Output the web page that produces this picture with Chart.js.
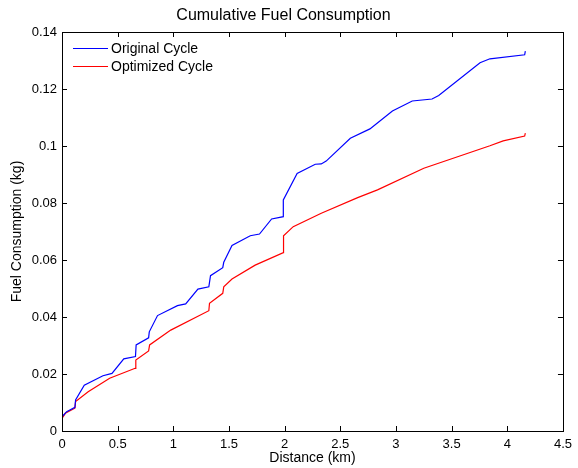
<!DOCTYPE html>
<html>
<head>
<meta charset="utf-8">
<script src="https://cdn.jsdelivr.net/npm/chart.js@4/dist/chart.umd.min.js"></script>
<style>
    html, body { margin: 0; padding: 0; background: #fff; }
    #wrap { width: 578px; height: 468px; }
</style>
</head>
<body>
<div id="wrap"><canvas id="fuelChart" width="578" height="468"></canvas></div>
<script>
// values
const originalDistance = [0, 0, 0.042, 0.116, 0.122, 0.2, 0.368, 0.449, 0.555, 0.66, 0.666, 0.778, 0.784, 0.858,
    1.037, 1.111, 1.221, 1.319, 1.334, 1.444, 1.453, 1.527, 1.691, 1.774, 1.883, 1.988, 1.988, 2.112, 2.275,
    2.329, 2.373, 2.59, 2.766, 2.968, 3.146, 3.324, 3.384, 3.755, 3.844, 4.156, 4.162];
const originalFuel = [0, 0.005, 0.0068, 0.0083, 0.0109, 0.0161, 0.0194, 0.0202, 0.0253, 0.0261, 0.0302, 0.0327, 0.0348, 0.0405,
    0.0440, 0.0446, 0.0498, 0.0506, 0.0545, 0.0573, 0.0592, 0.0651, 0.0685, 0.0691, 0.0744, 0.0752, 0.0811, 0.0904, 0.0936,
    0.0937, 0.0947, 0.1027, 0.1060, 0.1123, 0.1158, 0.1165, 0.1177, 0.1292, 0.1306, 0.1320, 0.1333];

const optimizedDistance = [0, 0, 0.03, 0.116, 0.122, 0.235, 0.428, 0.657, 0.663, 0.778, 0.787, 0.977,
    1.319, 1.325, 1.444, 1.453, 1.527, 1.735, 1.988, 1.99, 2.077, 2.329, 2.656, 2.834, 3.25, 3.844, 3.963, 4.156, 4.162];
const optimizedFuel = [0, 0.0044, 0.0062, 0.008, 0.0103, 0.0138, 0.0185, 0.0220, 0.0249, 0.0281, 0.0302, 0.0354,
    0.0422, 0.0448, 0.0483, 0.0506, 0.0533, 0.0582, 0.0626, 0.0685, 0.0717, 0.0764, 0.0819, 0.0846, 0.0922, 0.1001, 0.1018, 0.1035, 0.1045];

const xTicks = [0, 0.5, 1, 1.5, 2, 2.5, 3, 3.5, 4, 4.5];
const yTicks = [0, 0.02, 0.04, 0.06, 0.08, 0.1, 0.12, 0.14];

const seriesNames = ["Original Cycle", "Optimized Cycle"];
const seriesColors = ["#0000ff", "#ff0000"];

const FONT = "'Liberation Sans', Arial, Helvetica, sans-serif";

function toPoints(xs, ys) {
    return xs.map((x, i) => ({ x: x, y: ys[i] }));
}

// box round the axes + inward ticks on all four sides, matlab style
const boxTicks = {
    id: 'boxTicks',
    afterDraw(chart) {
        const ctx = chart.ctx;
        const a = chart.chartArea;
        const xs = chart.scales.x, ys = chart.scales.y;
        ctx.save();
        ctx.strokeStyle = '#000';
        ctx.lineWidth = 1;
        ctx.beginPath();
        xTicks.forEach(v => {
            const px = Math.round(xs.getPixelForValue(v)) + 0.5;
            ctx.moveTo(px, a.bottom); ctx.lineTo(px, a.bottom - 5);
            ctx.moveTo(px, a.top); ctx.lineTo(px, a.top + 5);
        });
        yTicks.forEach(v => {
            const py = Math.round(ys.getPixelForValue(v)) + 0.5;
            ctx.moveTo(a.left, py); ctx.lineTo(a.left + 5, py);
            ctx.moveTo(a.right, py); ctx.lineTo(a.right - 5, py);
        });
        ctx.stroke();
        ctx.strokeRect(Math.round(a.left) + 0.5, Math.round(a.top) + 0.5,
            Math.round(a.right - a.left), Math.round(a.bottom - a.top));
        ctx.restore();
    }
};

// legend inside the axes, top left, no frame
const innerLegend = {
    id: 'innerLegend',
    afterDraw(chart) {
        const ctx = chart.ctx;
        const a = chart.chartArea;
        ctx.save();
        ctx.font = '14px ' + FONT;
        ctx.textBaseline = 'middle';
        chart.data.datasets.forEach((ds, i) => {
            const y = a.top + 16 + i * 17.7;
            ctx.strokeStyle = ds.borderColor;
            ctx.lineWidth = 1;
            ctx.beginPath();
            ctx.moveTo(a.left + 11, Math.round(y) + 0.5);
            ctx.lineTo(a.left + 46, Math.round(y) + 0.5);
            ctx.stroke();
            ctx.fillStyle = '#000';
            ctx.fillText(ds.label, a.left + 49, y + 1);
        });
        ctx.restore();
    }
};

new Chart(document.getElementById('fuelChart'), {
    type: 'line',
    data: {
        datasets: [
            {
                label: seriesNames[0],
                borderColor: seriesColors[0],
                backgroundColor: seriesColors[0],
                borderWidth: 1.2,
                pointRadius: 0,
                tension: 0,
                data: toPoints(originalDistance, originalFuel)
            },
            {
                label: seriesNames[1],
                borderColor: seriesColors[1],
                backgroundColor: seriesColors[1],
                borderWidth: 1.2,
                pointRadius: 0,
                tension: 0,
                data: toPoints(optimizedDistance, optimizedFuel)
            }
        ]
    },
    options: {
        responsive: false,
        animation: false,
        layout: { padding: { left: 0, right: 11, top: 0, bottom: 0 } },
        plugins: {
            legend: { display: false },
            tooltip: { enabled: false },
            title: {
                display: true,
                text: 'Cumulative Fuel Consumption',
                color: '#000',
                font: { family: FONT, size: 16, weight: 'normal' },
                padding: { top: 5.5, bottom: 7.3 }
            }
        },
        scales: {
            x: {
                type: 'linear',
                min: 0,
                max: 4.5,
                afterBuildTicks: s => { s.ticks = xTicks.map(v => ({ value: v })); },
                afterFit: s => { s.height = 37; },
                grid: { display: false, drawTicks: false },
                border: { display: false },
                ticks: {
                    color: '#000',
                    padding: 6,
                    maxRotation: 0,
                    font: { family: FONT, size: 13 },
                    callback: v => String(v)
                },
                title: {
                    display: true,
                    text: 'Distance (km)',
                    color: '#000',
                    font: { family: FONT, size: 14 },
                    padding: { top: 0, bottom: 1.5 }
                }
            },
            y: {
                type: 'linear',
                min: 0,
                max: 0.14,
                afterBuildTicks: s => { s.ticks = yTicks.map(v => ({ value: v })); },
                afterFit: s => { s.width = 62; },
                grid: { display: false, drawTicks: false },
                border: { display: false },
                ticks: {
                    color: '#000',
                    padding: 5,
                    font: { family: FONT, size: 13 },
                    callback: v => String(Math.round(v * 100) / 100)
                },
                title: {
                    display: true,
                    text: 'Fuel Consumption (kg)',
                    color: '#000',
                    font: { family: FONT, size: 14 },
                    padding: { top: 8.6, bottom: 0 }
                }
            }
        }
    },
    plugins: [boxTicks, innerLegend]
});
</script>
</body>
</html>
